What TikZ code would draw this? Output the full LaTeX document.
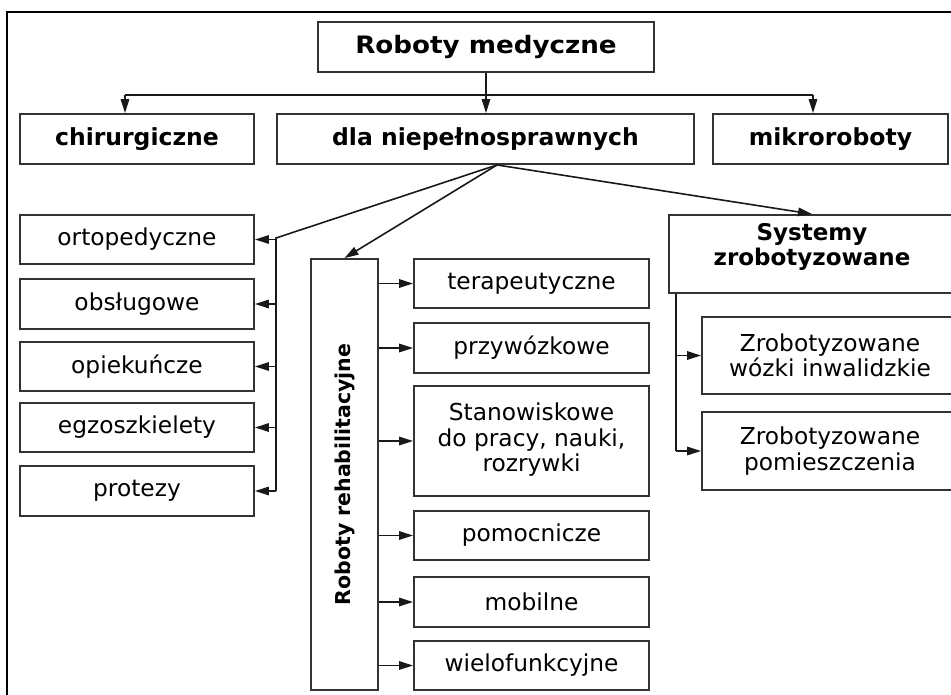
\documentclass[tikz,border=0pt]{standalone}
\usepackage{fontspec}
\usepackage{graphicx}
\setmainfont{DejaVu Sans}
\usetikzlibrary{arrows.meta}
\definecolor{boxline}{HTML}{333333}
\tikzset{
  box/.style={draw=boxline, line width=1.9pt, fill=white, inner sep=0pt, align=center,
    font=\fontsize{23.3}{25.5}\selectfont},
  hbox/.style={box, font=\bfseries\fontsize{23.5}{25.5}\selectfont},
  conn/.style={line width=1.6pt, draw=black!90},
  arr/.style={conn, -{Triangle[length=14pt,width=8.5pt]}},
}
\begin{document}
\begin{tikzpicture}[x=1pt,y=-1pt]
\useasboundingbox (0,0) rectangle (951,694);
\clip (0,0) rectangle (951,694);
% outer frame (runs past the right and bottom edges)
\draw[line width=2.6pt] (7,710) -- (7,12) -- (970,12);

% top level
\node[hbox, minimum width=336pt, minimum height=50pt, font=\bfseries\fontsize{24}{26}\selectfont] (top) at (486,47) {\scalebox{1.09}[1]{Roboty medyczne}};
\node[hbox, minimum width=234pt, minimum height=50pt] (chir) at (137,139) {chirurgiczne};
\node[hbox, minimum width=417pt, minimum height=50pt] (dla) at (485.5,139) {dla niepełnosprawnych};
\node[hbox, minimum width=235pt, minimum height=50pt] (mikro) at (830.5,139) {mikroroboty};

% left column
\node[box, minimum width=234pt, minimum height=49pt] (ort) at (137,239.5) {ortopedyczne};
\node[box, minimum width=234pt, minimum height=50pt] (obs) at (137,304) {obsługowe};
\node[box, minimum width=234pt, minimum height=49pt] (opi) at (137,366.5) {opiekuńcze};
\node[box, minimum width=234pt, minimum height=49pt] (egz) at (137,427.5) {egzoszkielety};
\node[box, minimum width=234pt, minimum height=50pt] (pro) at (137,491) {protezy};

% rehabilitation
\node[box, minimum width=67pt, minimum height=431pt] (reh) at (344.5,474.5)
  {\rotatebox{90}{\bfseries\fontsize{20.5}{24}\selectfont Roboty rehabilitacyjne}};
\node[box, minimum width=235pt, minimum height=49pt] (ter) at (531.5,283.5) {terapeutyczne};
\node[box, minimum width=235pt, minimum height=50pt] (prz) at (531.5,348) {przywózkowe};
\node[box, minimum width=235pt, minimum height=110pt] (sta) at (531.5,441) {Stanowiskowe\\do pracy, nauki,\\rozrywki\\[-18pt]};
\node[box, minimum width=235pt, minimum height=49pt] (pom) at (531.5,535.5) {pomocnicze};
\node[box, minimum width=235pt, minimum height=50pt] (mob) at (531.5,602) {mobilne};
\node[box, minimum width=235pt, minimum height=49pt] (wie) at (531.5,665.5) {wielofunkcyjne};

% systems
\node[hbox, minimum width=286pt, minimum height=78pt, font=\bfseries\fontsize{23}{25.5}\selectfont] (sys) at (812,254) {Systemy\\zrobotyzowane\\[-6pt]};
\node[box, minimum width=256pt, minimum height=77pt] (zw) at (830,355.5) {Zrobotyzowane\\wózki inwalidzkie};
\node[box, minimum width=256pt, minimum height=78pt] (zp) at (830,451) {Zrobotyzowane\\pomieszczenia};

% top connectors
\coordinate (barL) at (125,95);
\coordinate (barR) at (813,95);
\draw[conn] (barL) -- (barR);
\draw[arr] (top.south) -- (top.south |- dla.north);
\draw[arr] (barL) -- (barL |- chir.north);
\draw[arr] (barR) -- (barR |- mikro.north);

% from "dla niepelnosprawnych"
\coordinate (dlao) at ([xshift=11.5pt]dla.south);
\coordinate (ls) at (276,238);
\draw[conn] (dlao) -- (ls) -- (ls |- pro.east);
\draw[arr] (ls |- ort.east) -- (ort.east);
\draw[arr] (ls |- obs.east) -- (obs.east);
\draw[arr] (ls |- opi.east) -- (opi.east);
\draw[arr] (ls |- egz.east) -- (egz.east);
\draw[arr] (ls |- pro.east) -- (pro.east);
\draw[arr] (dlao) -- (reh.north);
\draw[arr] (dlao) -- (sys.north);

% rehabilitation branches
\foreach \n in {ter,prz,sta,pom,mob,wie}
  \draw[arr] (reh.east |- \n.west) -- (\n.west);

% systems branches
\coordinate (rs) at ([xshift=8pt]sys.south west);
\draw[conn] (rs) -- (rs |- zp.west);
\draw[arr] (rs |- zw.west) -- (zw.west);
\draw[arr] (rs |- zp.west) -- (zp.west);
\end{tikzpicture}
\end{document}
